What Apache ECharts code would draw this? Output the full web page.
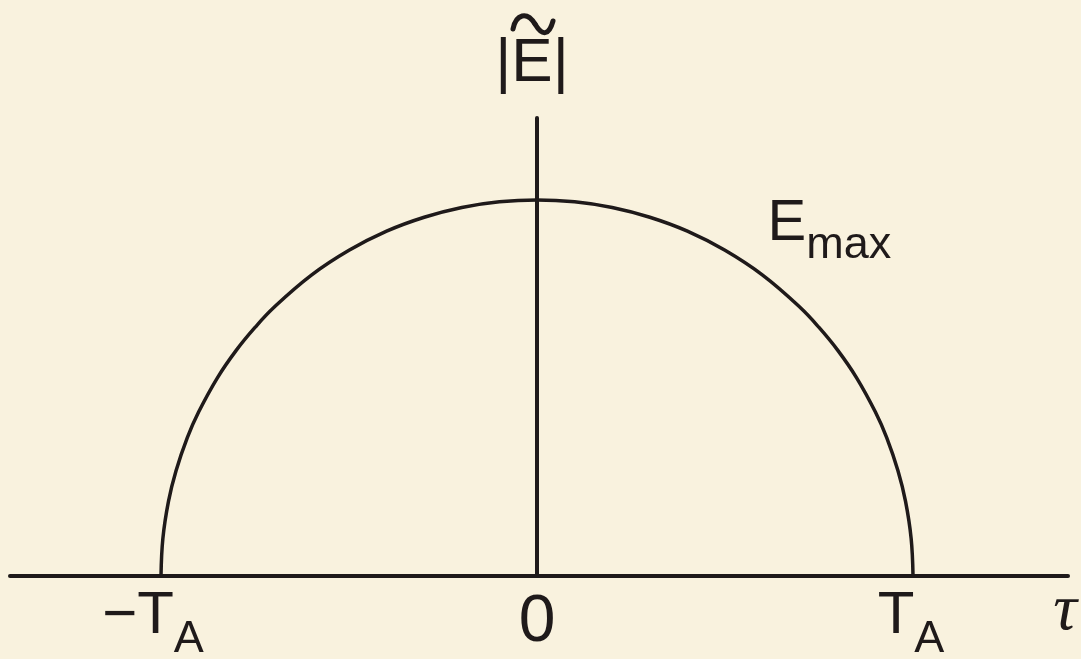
<!DOCTYPE html>
<html>
<head>
<meta charset="utf-8">
<title>|E| versus τ</title>
<script src="https://cdn.jsdelivr.net/npm/echarts@6/dist/echarts.min.js"></script>
<style>
  html, body { margin: 0; padding: 0; background: #f9f2de; }
  #chart { width: 1081px; height: 659px; }
</style>
</head>
<body>
<div id="chart"></div>
<script>
// Envelope magnitude |E~| over the delay τ, in units of T_A and E_max.
const curveTau = [-1, -0.995, -0.98, -0.96, -0.93, -0.9, -0.85, -0.8, -0.75, -0.7, -0.6, -0.5, -0.4, -0.3, -0.2, -0.1,
  0, 0.1, 0.2, 0.3, 0.4, 0.5, 0.6, 0.7, 0.75, 0.8, 0.85, 0.9, 0.93, 0.96, 0.98, 0.995, 1];
const curveE = [0, 0.100, 0.199, 0.280, 0.368, 0.436, 0.527, 0.600, 0.661, 0.714, 0.800, 0.866, 0.917, 0.954, 0.980, 0.995,
  1.000, 0.995, 0.980, 0.954, 0.917, 0.866, 0.800, 0.714, 0.661, 0.600, 0.527, 0.436, 0.368, 0.280, 0.199, 0.100, 0];

// Labelled positions on the τ axis
const tickTau = [-1, 0, 1];
const tickMain = ['−T', '0', 'T'];
const tickSub = ['A', '', 'A'];

// Curve annotation, attached to the curve at this τ
const peakLabelTau = 0.6;
const peakMain = 'E';
const peakSub = 'max';

const yAxisTitle = '|E|';
const xAxisTitle = 'τ';

const INK = '#1f1a1a';
const SANS = '"Liberation Sans", Arial, Helvetica, sans-serif';

const chart = echarts.init(document.getElementById('chart'), null, { renderer: 'canvas' });

const curveData = curveTau.map((t, i) => [t, curveE[i]]);
const tickData = tickTau.map((t, i) => ({
  value: [t, 0],
  label: i === 0 ? { offset: [-8, 0] } : (i === 2 ? { offset: [-2, 0] } : {})
}));
const peakIdx = curveTau.indexOf(peakLabelTau);

chart.setOption({
  backgroundColor: '#f9f2de',
  animation: false,
  grid: { left: 10, right: 13, top: 118, bottom: 83 },
  xAxis: {
    type: 'value',
    min: -1.4016,
    max: 1.4122,
    axisLine: { show: true, onZero: true, lineStyle: { color: INK, width: 4 } },
    axisTick: { show: false },
    axisLabel: { show: false },
    splitLine: { show: false },
    name: xAxisTitle,
    nameLocation: 'end',
    nameGap: -3,
    nameTextStyle: {
      color: INK,
      fontFamily: '"Liberation Serif", "Times New Roman", serif',
      fontStyle: 'italic',
      fontSize: 66,
      lineHeight: 72,
      align: 'center',
      verticalAlign: 'top'
    }
  },
  yAxis: {
    type: 'value',
    min: 0,
    max: 1.218,
    axisLine: { show: true, onZero: true, lineStyle: { color: INK, width: 4 } },
    axisTick: { show: false },
    axisLabel: { show: false },
    splitLine: { show: false },
    name: yAxisTitle,
    nameLocation: 'end',
    nameGap: 23,
    nameTextStyle: {
      color: INK,
      fontFamily: SANS,
      fontSize: 62,
      lineHeight: 62,
      padding: [0, 10, 0, 0]
    }
  },
  series: [
    {
      name: '|E|',
      type: 'line',
      data: curveData,
      smooth: 0.4,
      showSymbol: false,
      lineStyle: { color: INK, width: 3.5 },
      z: 3
    },
    {
      name: 'tau ticks',
      type: 'scatter',
      data: tickData,
      symbolSize: 0,
      silent: true,
      itemStyle: { opacity: 1 },
      label: {
        show: true,
        position: 'bottom',
        distance: 10,
        color: INK,
        fontFamily: SANS,
        formatter: p => {
          const i = p.dataIndex;
          if (tickSub[i]) return '{m|' + tickMain[i] + '}{s|' + tickSub[i] + '}';
          return '{z|' + tickMain[i] + '}';
        },
        rich: {
          m: { fontFamily: SANS, fontSize: 60, lineHeight: 40, verticalAlign: 'top', color: INK },
          s: { fontFamily: SANS, fontSize: 45, lineHeight: 40, verticalAlign: 'top', padding: [31, 0, 0, 0], color: INK },
          z: { fontFamily: SANS, fontSize: 66, lineHeight: 40, verticalAlign: 'top', padding: [4, 0, 0, 0], color: INK }
        }
      }
    },
    {
      name: 'peak label',
      type: 'scatter',
      data: [[curveTau[peakIdx], curveE[peakIdx]]],
      symbolSize: 0,
      silent: true,
      itemStyle: { opacity: 1 },
      label: {
        show: true,
        position: 'right',
        distance: 5,
        offset: [0, -60],
        color: INK,
        formatter: '{e|' + peakMain + '}{x|' + peakSub + '}',
        rich: {
          e: { fontFamily: SANS, fontSize: 58, lineHeight: 40, verticalAlign: 'top', color: INK },
          x: { fontFamily: SANS, fontSize: 45, lineHeight: 40, verticalAlign: 'top', padding: [28, 0, 0, 0], color: INK }
        }
      }
    }
  ]
});

// Tilde accent over the E of the vertical axis title, placed from the axis position
const axisX = chart.convertToPixel({ xAxisIndex: 0 }, 0);
const axisTop = chart.convertToPixel({ yAxisIndex: 0 }, 1.218);
const tildeStyle = { fill: 'none', stroke: INK, lineWidth: 5, lineCap: 'round' };
chart.setOption({
  graphic: [
    {
      type: 'bezierCurve',
      x: axisX,
      y: axisTop - 94,
      silent: true,
      shape: { x1: -24, y1: 5, cpx1: -21, cpy1: -10, cpx2: -10, cpy2: -13, x2: -2, y2: 0 },
      style: tildeStyle
    },
    {
      type: 'bezierCurve',
      x: axisX,
      y: axisTop - 94,
      silent: true,
      shape: { x1: -2, y1: 0, cpx1: 5, cpy1: 12, cpx2: 12, cpy2: 12, x2: 16, y2: -3 },
      style: tildeStyle
    }
  ]
});
</script>
</body>
</html>
